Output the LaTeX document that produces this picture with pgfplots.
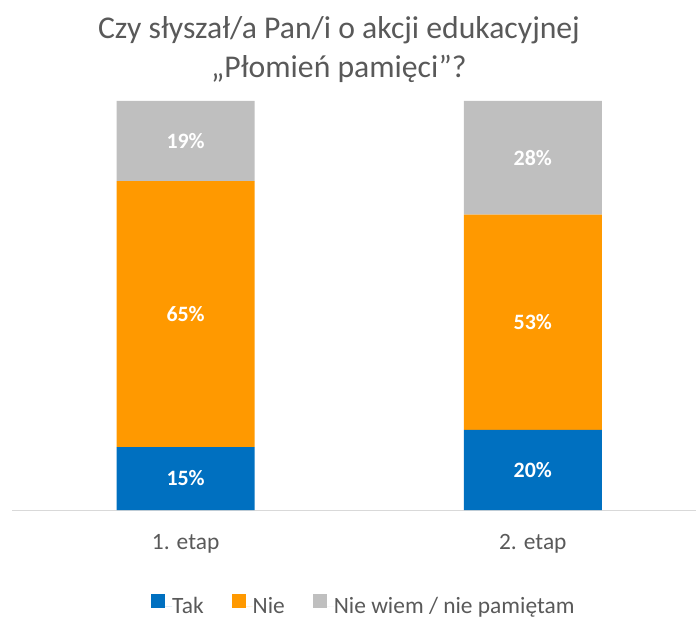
\documentclass[border=0pt]{standalone}
\usepackage{fontspec}
\setmainfont{Carlito}
\usepackage{pgfplots}
\pgfplotsset{compat=1.18}

\definecolor{takblue}{HTML}{0070C0}
\definecolor{nieorange}{HTML}{FF9900}
\definecolor{nwgray}{HTML}{BFBFBF}
\definecolor{txtgray}{HTML}{595959}
\definecolor{axgray}{HTML}{D9D9D9}

\pgfplotsset{
  sq legend/.style={legend image code/.code={%
    \fill[##1] (0bp,-1bp) rectangle (14bp,13bp);
    \path (0bp,0bp) -- (21bp,0bp);}},
}

\begin{document}
\begin{tikzpicture}
\begin{axis}[
  scale only axis,
  width=684bp, height=409bp,
  clip=false,
  ybar stacked,
  bar width=138bp,
  xmin=-0.5, xmax=1.47,
  ymin=0, ymax=100,
  axis x line*=bottom,
  axis y line=none,
  x axis line style={draw=axgray, line width=1bp},
  xtick={0,1},
  xticklabels={1. etap, 2. etap},
  major tick length=0pt,
  xticklabel style={font=\fontsize{23.5}{28}\selectfont, text=txtgray, anchor=base, yshift=-39bp},
  point meta=explicit symbolic,
  nodes near coords={\textbf{\pgfplotspointmeta\%}},
  every node near coord/.append style={font=\fontsize{22}{26}\selectfont, text=white,
    anchor=center},
  legend columns=3,
  legend style={draw=none, fill=none, at={(0.513,-0.231)}, anchor=center,
    inner sep=0pt, nodes={inner sep=0pt},
    font=\fontsize{23.5}{28}\selectfont, text=txtgray,
    /tikz/every even column/.append style={column sep=28bp}},
]
% etap, height (share of bar), label
\addplot[fill=takblue, draw=none, sq legend] coordinates {(0,15.4) [15] (1,19.6) [20]};
\addplot[fill=nieorange, draw=none, sq legend] coordinates {(0,65.0) [65] (1,52.6) [53]};
\addplot[fill=nwgray, draw=none, sq legend] coordinates {(0,19.6) [19] (1,27.8) [28]};
\legend{Tak, Nie, Nie wiem / nie pamiętam}

\coordinate (bl) at (rel axis cs:0,0);
\coordinate (tr) at (rel axis cs:1,1);
\node[anchor=base, font=\fontsize{31.8}{38.5}\selectfont, text=txtgray, yshift=62bp]
  at (rel axis cs:0.478,1) {Czy słyszał/a Pan/i o akcji edukacyjnej};
\node[anchor=base, font=\fontsize{31.8}{38.5}\selectfont, text=txtgray, yshift=23bp]
  at (rel axis cs:0.478,1) {„Płomień pamięci”?};
\end{axis}
\pgfresetboundingbox
\path[use as bounding box] ([xshift=-12bp,yshift=-111bp]bl) rectangle ([yshift=101bp]tr);
\end{tikzpicture}
\end{document}
